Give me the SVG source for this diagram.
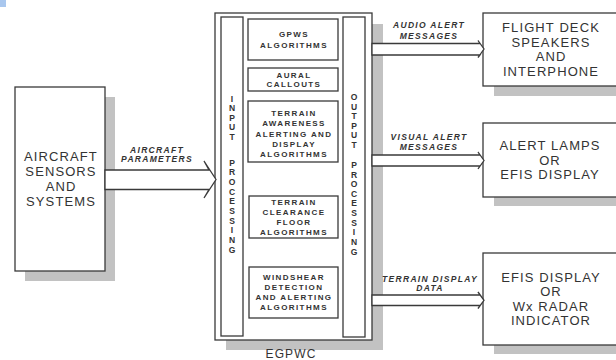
<svg xmlns="http://www.w3.org/2000/svg" width="616" height="360" viewBox="0 0 616 360">
<style>
.box{fill:#fff;stroke:#3a3a3a;stroke-width:1.3}
.sh{fill:#c2c2c2}
.arr{fill:#fff;stroke:#3a3a3a;stroke-width:1.3;stroke-linejoin:miter}
.big{font-family:"Liberation Sans",Arial,sans-serif;font-size:13px;letter-spacing:1.1px;fill:#333;text-anchor:middle}
.in{font-family:"Liberation Sans",Arial,sans-serif;font-size:8px;font-weight:bold;letter-spacing:1.4px;fill:#333;text-anchor:middle}
.vt{font-family:"Liberation Sans",Arial,sans-serif;font-size:8.5px;font-weight:bold;fill:#333;text-anchor:middle}
.lbl{font-family:"Liberation Sans",Arial,sans-serif;font-size:8.5px;font-weight:bold;font-style:italic;letter-spacing:1.3px;fill:#333;text-anchor:middle}
</style>
<rect x="0" y="0" width="6" height="7" fill="#a9c7ee"/>

<g id="sensors">
<rect class="sh" x="25" y="97" width="90" height="184"/>
<rect class="box" x="15" y="87" width="90" height="184"/>
<text class="big" x="61" y="160.7">AIRCRAFT</text>
<text class="big" x="61" y="175.7">SENSORS</text>
<text class="big" x="61" y="190.7">AND</text>
<text class="big" x="61" y="205.7">SYSTEMS</text>
</g>

<g id="egpwc">
<rect class="sh" x="226" y="24" width="157" height="326"/>
<rect class="box" x="215" y="13" width="157" height="327"/>
<text class="big" x="291" y="358" style="font-size:12px">EGPWC</text>
</g>

<g id="input-processing">
<rect class="box" x="221" y="17" width="22" height="319"/>
<g class="vt">
<text x="232" y="101.7">I</text><text x="232" y="111.2">N</text><text x="232" y="120.7">P</text><text x="232" y="130.2">U</text><text x="232" y="139.7">T</text>
<text x="232" y="165.5">P</text><text x="232" y="175.2">R</text><text x="232" y="184.9">O</text><text x="232" y="194.6">C</text><text x="232" y="204.3">E</text><text x="232" y="214">S</text><text x="232" y="223.7">S</text><text x="232" y="233.4">I</text><text x="232" y="243.1">N</text><text x="232" y="252.8">G</text>
</g>
</g>

<g id="output-processing">
<rect class="box" x="343" y="17" width="22" height="320"/>
<g class="vt">
<text x="354" y="100">O</text><text x="354" y="109.5">U</text><text x="354" y="119">T</text><text x="354" y="128.5">P</text><text x="354" y="138">U</text><text x="354" y="147.5">T</text>
<text x="354" y="168">P</text><text x="354" y="177.5">R</text><text x="354" y="187.1">O</text><text x="354" y="196.8">C</text><text x="354" y="206.4">E</text><text x="354" y="216">S</text><text x="354" y="225.7">S</text><text x="354" y="235.3">I</text><text x="354" y="245">N</text><text x="354" y="255">G</text>
</g>
</g>

<g id="gpws">
<rect class="box" x="248" y="19" width="90" height="41"/>
<text class="in" x="294" y="36.5">GPWS</text>
<text class="in" x="294" y="48">ALGORITHMS</text>
</g>

<g id="aural">
<rect class="box" x="248" y="68" width="90" height="23"/>
<text class="in" x="294" y="77.7">AURAL</text>
<text class="in" x="294" y="87.3">CALLOUTS</text>
</g>

<g id="terrain-awareness">
<rect class="box" x="248" y="101" width="90" height="61"/>
<text class="in" x="294" y="116">TERRAIN</text>
<text class="in" x="294" y="126.3">AWARENESS</text>
<text class="in" x="294" y="136.6">ALERTING AND</text>
<text class="in" x="294" y="146.8">DISPLAY</text>
<text class="in" x="294" y="157">ALGORITHMS</text>
</g>

<g id="terrain-clearance">
<rect class="box" x="249" y="196" width="89" height="42"/>
<text class="in" x="294" y="205">TERRAIN</text>
<text class="in" x="294" y="215">CLEARANCE</text>
<text class="in" x="294" y="225">FLOOR</text>
<text class="in" x="294" y="235">ALGORITHMS</text>
</g>

<g id="windshear">
<rect class="box" x="249" y="267" width="89" height="51"/>
<text class="in" x="294" y="280">WINDSHEAR</text>
<text class="in" x="294" y="290">DETECTION</text>
<text class="in" x="294" y="300">AND ALERTING</text>
<text class="in" x="294" y="310">ALGORITHMS</text>
</g>

<g id="speakers">
<rect class="sh" x="494" y="24" width="130" height="72"/>
<rect class="box" x="483" y="13" width="140" height="73"/>
<text class="big" x="551" y="31.7">FLIGHT DECK</text>
<text class="big" x="551" y="46.5">SPEAKERS</text>
<text class="big" x="551" y="61.3">AND</text>
<text class="big" x="551" y="76">INTERPHONE</text>
</g>

<g id="lamps">
<rect class="sh" x="494" y="133" width="130" height="73"/>
<rect class="box" x="483" y="123" width="140" height="74"/>
<text class="big" x="550" y="150">ALERT LAMPS</text>
<text class="big" x="550" y="164.5">OR</text>
<text class="big" x="550" y="179">EFIS DISPLAY</text>
</g>

<g id="efis">
<rect class="sh" x="494" y="263" width="130" height="91"/>
<rect class="box" x="483" y="253" width="140" height="92"/>
<text class="big" x="551" y="281.5">EFIS DISPLAY</text>
<text class="big" x="551" y="296">OR</text>
<text class="big" x="551" y="310.5">Wx RADAR</text>
<text class="big" x="551" y="325">INDICATOR</text>
</g>

<g id="connectors">
<path class="arr" d="M105,170 H209 L204,161 L216,179.5 L204,198 L209,189.5 H105 Z"/>
<path class="arr" d="M372,43.5 H480 L478,40.5 L484,49 L478,57.5 L480,55 H372 Z"/>
<path class="arr" d="M372,155 H480 L478,152 L484,160.5 L478,169 L480,166 H372 Z"/>
<path class="arr" d="M372,295 H480 L478,292 L484,300.3 L478,308.5 L480,305.5 H372 Z"/>
<text class="lbl" x="157" y="153">AIRCRAFT</text>
<text class="lbl" x="157" y="162">PARAMETERS</text>
<text class="lbl" x="429" y="28">AUDIO ALERT</text>
<text class="lbl" x="429" y="38.5">MESSAGES</text>
<text class="lbl" x="429" y="140">VISUAL ALERT</text>
<text class="lbl" x="429" y="150">MESSAGES</text>
<text class="lbl" x="430" y="281.5">TERRAIN DISPLAY</text>
<text class="lbl" x="430" y="291">DATA</text>
</g>
</svg>
